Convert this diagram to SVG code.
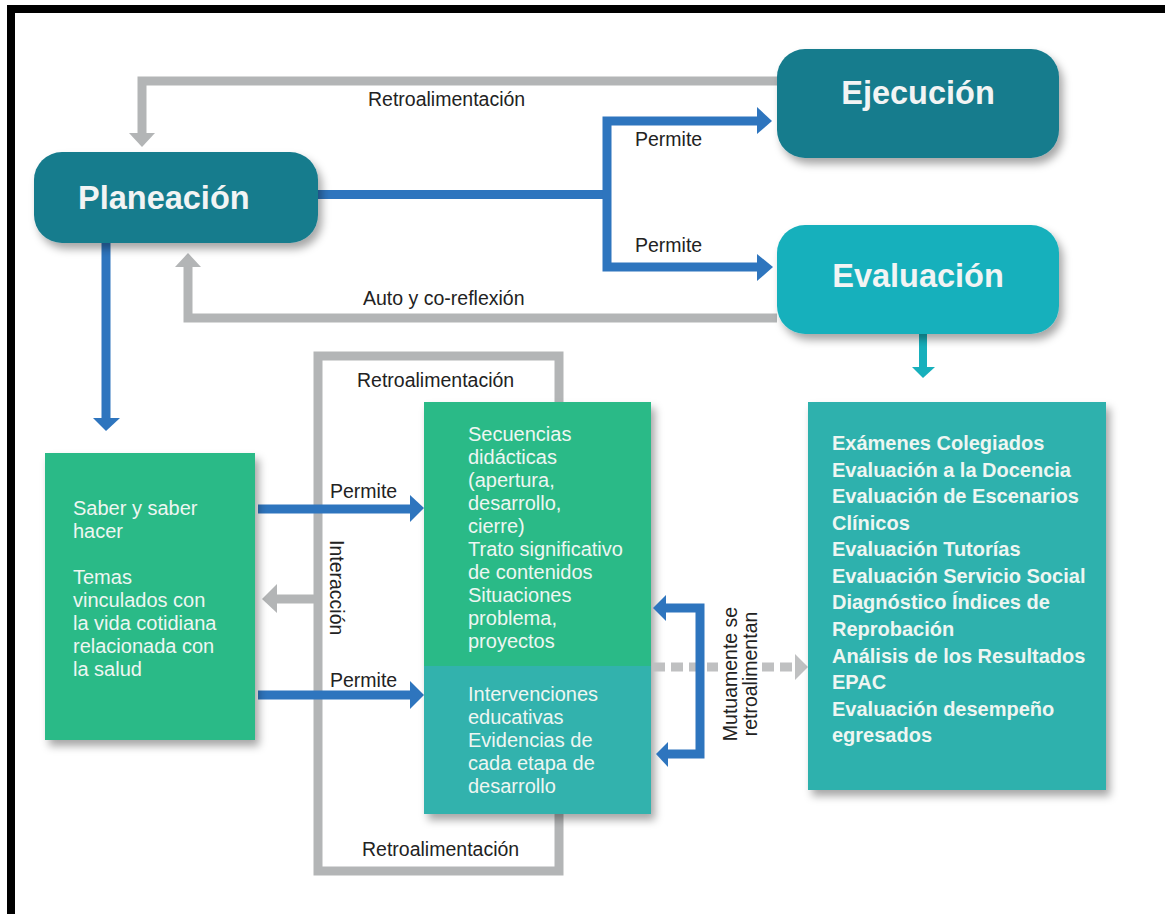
<svg xmlns="http://www.w3.org/2000/svg" width="1165" height="914" viewBox="0 0 1165 914">
<defs>
<filter id="sh" x="-10%" y="-10%" width="125%" height="130%">
<feDropShadow dx="4" dy="6" stdDeviation="4" flood-color="#000" flood-opacity="0.35"/>
</filter>
</defs>
<style>
text{font-family:"Liberation Sans",Arial,sans-serif}
.head{font-size:32.5px;font-weight:bold;fill:#f2f4f4}
.lbl{font-size:19.5px;fill:#222}
.box{font-size:20px;fill:#eef6f2}
.bold{font-size:20px;font-weight:bold;fill:#eef6f2}
.gray{fill:none;stroke:#b3b5b6;stroke-width:9}
.blue{fill:none;stroke:#2e75be;stroke-width:9}
.dot{fill:none;stroke:#bfc0c1;stroke-width:9;stroke-dasharray:12 6}
.gh{fill:#b3b5b6}
.bh{fill:#2e75be}
</style>
<rect width="1165" height="914" fill="#ffffff"/>
<g id="frame">
<rect x="7" y="5" width="1158" height="8" fill="#000"/>
<rect x="7" y="5" width="8" height="909" fill="#000"/>
</g>

<g id="connectors">
<path class="gray" d="M777,81 H142 V134"/>
<polygon class="gh" points="129,133 155,133 142,147"/>
<path class="gray" d="M777,318 H188 V266"/>
<polygon class="gh" points="175,267 201,267 188,253"/>
<path class="blue" d="M318,194.5 H607"/>
<path class="blue" d="M758,121 H607 V267 H758"/>
<polygon class="bh" points="757,107 757,134 772,121"/>
<polygon class="bh" points="757,254 757,281 773,267"/>
<path class="blue" d="M106,243 V419"/>
<polygon class="bh" points="93,418 120,418 106,431"/>
<rect class="gray" x="318" y="356" width="241" height="515"/>
<path class="gray" d="M318,599 H276"/>
<polygon class="gh" points="277,584 277,613 262,599"/>
<path class="blue" d="M258,509 H411"/>
<polygon class="bh" points="410,495 410,522 424,508"/>
<path class="blue" d="M258,695 H411"/>
<polygon class="bh" points="410,681 410,709 424,695"/>
<path d="M923,334 V368" fill="none" stroke="#17b0bc" stroke-width="8"/>
<polygon fill="#17b0bc" points="912,367 935,367 923,378"/>
</g>

<g id="planeacion" filter="url(#sh)">
<rect x="34" y="152" width="284" height="91" rx="28" fill="#187b8d"/>
</g>
<text class="head" x="78" y="209">Planeación</text>

<g id="ejecucion" filter="url(#sh)">
<rect x="777" y="49" width="282" height="109" rx="28" fill="#187b8d"/>
</g>
<text class="head" x="918" y="104" text-anchor="middle">Ejecución</text>

<g id="evaluacion" filter="url(#sh)">
<rect x="777" y="225" width="282" height="109" rx="28" fill="#17b0bc"/>
</g>
<text class="head" x="918" y="287" text-anchor="middle">Evaluación</text>

<g id="saber" filter="url(#sh)">
<rect x="45" y="453" width="210" height="287" fill="#2cba87"/>
</g>
<g id="saber-text">
<text class="box" x="73" y="515">Saber y saber</text>
<text class="box" x="73" y="538">hacer</text>
<text class="box" x="73" y="584">Temas</text>
<text class="box" x="73" y="607">vinculados con</text>
<text class="box" x="73" y="630">la vida cotidiana</text>
<text class="box" x="73" y="653">relacionada con</text>
<text class="box" x="73" y="676">la salud</text>
</g>

<g id="secuencias" filter="url(#sh)">
<rect x="424" y="402" width="227" height="264" fill="#2cba87"/>
<rect x="424" y="666" width="227" height="148" fill="#31b2ad"/>
</g>
<g id="secuencias-text">
<text class="box" x="468" y="441">Secuencias</text>
<text class="box" x="468" y="464">didácticas</text>
<text class="box" x="468" y="487">(apertura,</text>
<text class="box" x="468" y="510">desarrollo,</text>
<text class="box" x="468" y="533">cierre)</text>
<text class="box" x="468" y="556">Trato significativo</text>
<text class="box" x="468" y="579">de contenidos</text>
<text class="box" x="468" y="602">Situaciones</text>
<text class="box" x="468" y="625">problema,</text>
<text class="box" x="468" y="648">proyectos</text>
<text class="box" x="468" y="701">Intervenciones</text>
<text class="box" x="468" y="724">educativas</text>
<text class="box" x="468" y="747">Evidencias de</text>
<text class="box" x="468" y="770">cada etapa de</text>
<text class="box" x="468" y="793">desarrollo</text>
</g>

<g id="connectors-front">
<path class="dot" d="M653,667 H718"/>
<path class="dot" d="M762,667 H795"/>
<polygon fill="#bfc0c1" points="795,654 795,680 808,667"/>
<path class="blue" d="M665,608 H700 V754 H667"/>
<polygon class="bh" points="666,595 666,621 653,608"/>
<polygon class="bh" points="668,742 668,767 656,754"/>
</g>

<g id="evaluaciones" filter="url(#sh)">
<rect x="808" y="402" width="298" height="388" fill="#2fb1ad"/>
</g>
<g id="evaluaciones-text">
<text class="bold" x="832" y="450">Exámenes Colegiados</text>
<text class="bold" x="832" y="476.5">Evaluación a la Docencia</text>
<text class="bold" x="832" y="503">Evaluación de Escenarios</text>
<text class="bold" x="832" y="529.5">Clínicos</text>
<text class="bold" x="832" y="556">Evaluación Tutorías</text>
<text class="bold" x="832" y="582.5">Evaluación Servicio Social</text>
<text class="bold" x="832" y="609">Diagnóstico Índices de</text>
<text class="bold" x="832" y="636">Reprobación</text>
<text class="bold" x="832" y="662.5">Análisis de los Resultados</text>
<text class="bold" x="832" y="689">EPAC</text>
<text class="bold" x="832" y="715.5">Evaluación desempeño</text>
<text class="bold" x="832" y="742">egresados</text>
</g>

<g id="labels">
<text class="lbl" x="368" y="106">Retroalimentación</text>
<text class="lbl" x="363" y="305">Auto y co-reflexión</text>
<text class="lbl" x="635" y="146">Permite</text>
<text class="lbl" x="635" y="252">Permite</text>
<text class="lbl" x="330" y="498">Permite</text>
<text class="lbl" x="330" y="687">Permite</text>
<text class="lbl" x="357" y="387">Retroalimentación</text>
<text class="lbl" x="362" y="856">Retroalimentación</text>
<text class="lbl" transform="translate(330,540) rotate(90)">Interacción</text>
<text class="lbl" text-anchor="middle" transform="translate(737,674) rotate(-90)">Mutuamente se</text>
<text class="lbl" text-anchor="middle" transform="translate(757,674) rotate(-90)">retroalimentan</text>
</g>
</svg>
